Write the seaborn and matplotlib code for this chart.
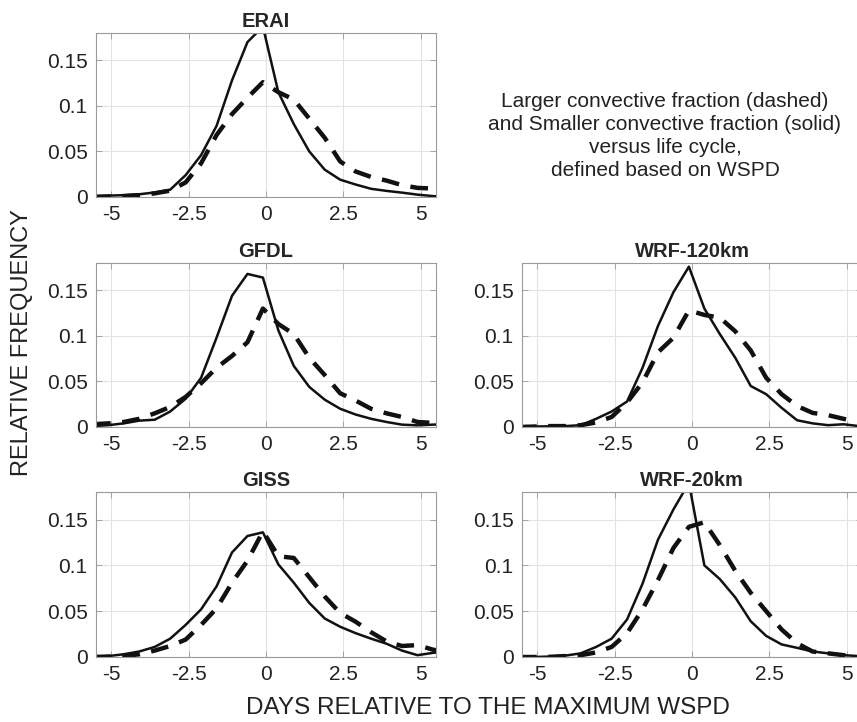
import pandas as pd
import numpy as np
import matplotlib
matplotlib.use("Agg")
import matplotlib.pyplot as plt
import seaborn as sns

# days relative to the maximum WSPD (12-hourly samples)
days = [-5.6, -5.1, -4.6, -4.1, -3.6, -3.1, -2.6, -2.1, -1.6, -1.1, -0.6, -0.1,
        0.4, 0.9, 1.4, 1.9, 2.4, 2.9, 3.4, 3.9, 4.4, 4.9, 5.4, 5.9]

# smaller convective fraction (solid)
erai_small = [0.001, 0.0015, 0.002, 0.003, 0.005, 0.008, 0.024, 0.046, 0.078, 0.128, 0.17, 0.187,
              0.115, 0.080, 0.050, 0.030, 0.019, 0.0137, 0.009, 0.0067, 0.0048, 0.0026, 0.001, 0.0]
gfdl_small = [0.001, 0.002, 0.004, 0.007, 0.008, 0.017, 0.031, 0.054, 0.098, 0.144, 0.168, 0.164,
              0.106, 0.067, 0.044, 0.030, 0.020, 0.0137, 0.009, 0.0055, 0.0026, 0.0018, 0.0026, 0.003]
giss_small = [0.0005, 0.001, 0.003, 0.006, 0.011, 0.02, 0.035, 0.052, 0.077, 0.114, 0.132, 0.136,
              0.101, 0.081, 0.059, 0.042, 0.033, 0.026, 0.020, 0.0145, 0.007, 0.002, 0.0045, 0.006]
wrf120_small = [0.0005, 0.0005, 0.0008, 0.001, 0.002, 0.009, 0.017, 0.028, 0.065, 0.111, 0.148, 0.176,
                0.13, 0.102, 0.076, 0.045, 0.036, 0.021, 0.0074, 0.004, 0.002, 0.003, 0.001, 0.0]
wrf20_small = [0.0, 0.0, 0.0005, 0.0015, 0.004, 0.011, 0.02, 0.041, 0.08, 0.128, 0.161, 0.19,
               0.1, 0.085, 0.065, 0.039, 0.023, 0.0137, 0.010, 0.006, 0.004, 0.002, 0.001, 0.0]

# larger convective fraction (dashed)
erai_large = [0.0, 0.0005, 0.001, 0.002, 0.004, 0.007, 0.016, 0.037, 0.068, 0.091, 0.109, 0.126,
              0.115, 0.107, 0.086, 0.065, 0.039, 0.028, 0.022, 0.018, 0.013, 0.010, 0.0093, 0.008]
gfdl_large = [0.003, 0.004, 0.0055, 0.009, 0.015, 0.022, 0.033, 0.048, 0.065, 0.078, 0.093, 0.13,
              0.113, 0.102, 0.076, 0.057, 0.037, 0.029, 0.020, 0.015, 0.011, 0.0055, 0.0045, 0.003]
giss_large = [0.0, 0.0005, 0.001, 0.003, 0.007, 0.012, 0.019, 0.035, 0.053, 0.081, 0.105, 0.137,
              0.11, 0.108, 0.087, 0.066, 0.048, 0.0385, 0.027, 0.017, 0.012, 0.013, 0.008, 0.005]
wrf120_large = [0.0, 0.0005, 0.001, 0.001, 0.002, 0.005, 0.011, 0.027, 0.049, 0.082, 0.098, 0.128,
                0.123, 0.12, 0.105, 0.084, 0.054, 0.036, 0.023, 0.0155, 0.013, 0.009, 0.0055, 0.004]
wrf20_large = [0.0, 0.0, 0.0002, 0.001, 0.002, 0.005, 0.011, 0.026, 0.052, 0.084, 0.119, 0.142,
               0.147, 0.122, 0.094, 0.070, 0.05, 0.03, 0.015, 0.006, 0.004, 0.002, 0.0005, 0.0]

panels = {
    "ERAI": (erai_small, erai_large),
    "GFDL": (gfdl_small, gfdl_large),
    "GISS": (giss_small, giss_large),
    "WRF-120km": (wrf120_small, wrf120_large),
    "WRF-20km": (wrf20_small, wrf20_large),
}

sns.set_theme(style="whitegrid")
plt.rcParams['font.family'] = ['Liberation Sans', 'DejaVu Sans']

fig = plt.figure(figsize=(8.57, 7.22), dpi=100)

W, H = 857, 722
# axes boxes in pixels: left, top, width, height
boxes = {
    "ERAI": (96, 33, 340, 164),
    "GFDL": (96, 263, 340, 164),
    "GISS": (96, 492, 340, 165),
    "WRF-120km": (522, 263, 340, 164),
    "WRF-20km": (522, 492, 340, 165),
}

for name, (small, large) in panels.items():
    l, t, w, h = boxes[name]
    ax = fig.add_axes([l / W, 1 - (t + h) / H, w / W, h / H])
    df = pd.DataFrame({"day": days + days,
                       "freq": small + large,
                       "kind": ["small"] * len(days) + ["large"] * len(days)})
    sns.lineplot(data=df, x="day", y="freq", style="kind",
                 style_order=["small", "large"],
                 dashes={"small": "", "large": (4, 2.6)},
                 color="#111111", legend=False, ax=ax)
    lines = ax.get_lines()
    lines[0].set_linewidth(1.8)
    lines[1].set_linewidth(3.2)
    ax.set_xlim(-5.5, 5.5)
    ax.set_ylim(0, 0.18)
    ax.set_xticks([-5, -2.5, 0, 2.5, 5])
    ax.set_xticklabels(["-5", "-2.5", "0", "2.5", "5"])
    ax.set_yticks([0, 0.05, 0.1, 0.15])
    ax.set_yticklabels(["0", "0.05", "0.1", "0.15"])
    ax.set_xlabel("")
    ax.set_ylabel("")
    ax.set_title(name, fontsize=14.5, fontweight="bold", pad=4)
    ax.grid(True, color="#e3e3e3", linewidth=0.8)
    for s in ax.spines.values():
        s.set_color("#9a9a9a")
        s.set_linewidth(0.8)
    ax.tick_params(direction="in", length=4, width=0.6, color="#9a9a9a",
                   labelsize=15, labelcolor="#222222",
                   top=True, right=True, bottom=True, left=True)
    ax.tick_params(axis="x", pad=6)
    ax.tick_params(axis="y", pad=6)

fig.text(665 / W, 1 - 136 / H,
         "Larger convective fraction (dashed)\nand Smaller convective fraction (solid)\n"
         "versus life cycle,\ndefined based on WSPD",
         ha="center", va="center", fontsize=15, linespacing=1.25, color="#222222")

fig.text(488 / W, 1 - 708 / H, "DAYS RELATIVE TO THE MAXIMUM WSPD",
         ha="center", va="center", fontsize=17.5, color="#222222")
fig.text(22 / W, 1 - 343 / H, "RELATIVE FREQUENCY", rotation=90,
         ha="center", va="center", fontsize=17, color="#222222")

fig.savefig("out.png", dpi=100)
